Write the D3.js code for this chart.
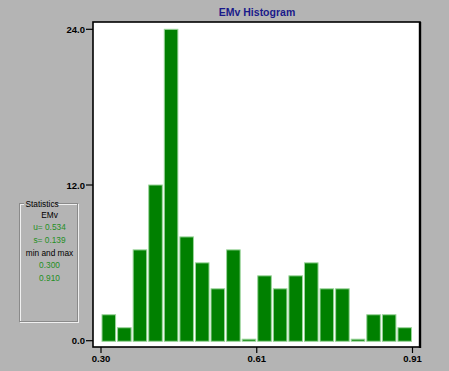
<!DOCTYPE html>
<html><head><meta charset="utf-8">
<script src="https://cdn.jsdelivr.net/npm/d3@7"></script>
<style>
html,body{margin:0;padding:0;background:#b4b4b4;}
svg{display:block;font-family:"Liberation Sans",Arial,sans-serif;}
</style></head>
<body>
<svg id="c" width="449" height="371"></svg>
<script>
const title = "EMv Histogram";
const binMin = 0.30, binMax = 0.91;
const counts = [2, 1, 7, 12, 24, 8, 6, 4, 7, 0, 5, 4, 5, 6, 4, 4, 0, 2, 2, 1];
const xTickValues = [0.30, 0.605, 0.91];
const xTickLabels = ["0.30", "0.61", "0.91"];
const yTickValues = [0, 12, 24];
const yTickLabels = ["0.0", "12.0", "24.0"];
const statsLines = [
  {text: "EMv", green: false},
  {text: "u= 0.534", green: true},
  {text: "s= 0.139", green: true},
  {text: "min and max", green: false},
  {text: "0.300", green: true},
  {text: "0.910", green: true}
];

const svg = d3.select("#c");
const x = d3.scaleLinear().domain([binMin, binMax]).range([101, 412.5]);
const y = d3.scaleLinear().domain([0, 24]).range([340.7, 29.3]);
const nb = counts.length;
const bw = (binMax - binMin) / nb;

// title
svg.append("text").attr("x", 257).attr("y", 16).attr("text-anchor", "middle")
  .attr("font-size", 10.5).attr("font-weight", "bold").attr("fill", "#1a1a8a").text(title);

// plot area
svg.append("rect").attr("x", 93).attr("y", 22).attr("width", 327).attr("height", 325)
  .attr("fill", "#ffffff");

// bars
svg.append("g").selectAll("rect").data(counts).join("rect")
  .attr("x", (d, i) => x(binMin + i * bw) + 1)
  .attr("width", (d, i) => x(binMin + (i + 1) * bw) - x(binMin + i * bw) - 2)
  .attr("y", d => d === 0 ? y(0) - 1.5 : y(d))
  .attr("height", d => d === 0 ? 2 : y(0) - y(d) + 0.6)
  .attr("fill", "#008000").attr("stroke", "#9ad49a").attr("stroke-width", 1);

// frame
svg.append("rect").attr("x", 93).attr("y", 22).attr("width", 327).attr("height", 325)
  .attr("fill", "none").attr("stroke", "#000").attr("stroke-width", 1.6);
svg.append("line").attr("x1", 420).attr("x2", 420).attr("y1", 22).attr("y2", 348)
  .attr("stroke", "#000").attr("stroke-width", 2.4);

// y axis ticks
const yg = svg.append("g");
yg.selectAll("line").data(yTickValues).join("line")
  .attr("x1", 86).attr("x2", 93).attr("y1", d => y(d)).attr("y2", d => y(d))
  .attr("stroke", "#000").attr("stroke-width", 1.2);
yg.selectAll("text").data(yTickValues).join("text")
  .attr("x", 85).attr("y", d => y(d) + 3.5).attr("text-anchor", "end")
  .attr("font-size", 9.5).attr("font-weight", "bold").attr("fill", "#000")
  .text((d, i) => yTickLabels[i]);

// x axis ticks
const xg = svg.append("g");
xg.selectAll("line").data(xTickValues).join("line")
  .attr("x1", d => x(d)).attr("x2", d => x(d)).attr("y1", 347).attr("y2", 353)
  .attr("stroke", "#000").attr("stroke-width", 1.2);
xg.selectAll("text").data(xTickValues).join("text")
  .attr("x", d => x(d)).attr("y", 362).attr("text-anchor", "middle")
  .attr("font-size", 9.5).attr("font-weight", "bold").attr("fill", "#000")
  .text((d, i) => xTickLabels[i]);

// statistics group box (etched)
svg.append("rect").attr("x", 20.5).attr("y", 204.5).attr("width", 58).attr("height", 118)
  .attr("fill", "none").attr("stroke", "#f0f0f0").attr("stroke-width", 1);
svg.append("rect").attr("x", 19.5).attr("y", 203.5).attr("width", 58).attr("height", 118)
  .attr("fill", "none").attr("stroke", "#8a8a8a").attr("stroke-width", 1);
svg.append("rect").attr("x", 24).attr("y", 198).attr("width", 31).attr("height", 10)
  .attr("fill", "#b4b4b4");
svg.append("text").attr("x", 25.5).attr("y", 206.5).attr("font-size", 8.3)
  .attr("fill", "#000").text("Statistics");
svg.append("g").selectAll("text").data(statsLines).join("text")
  .attr("x", 49.5).attr("y", (d, i) => 217.5 + i * 12.7).attr("text-anchor", "middle")
  .attr("font-size", 8.3).attr("fill", d => d.green ? "#1f8f1f" : "#000")
  .text(d => d.text);
</script>
</body></html>
